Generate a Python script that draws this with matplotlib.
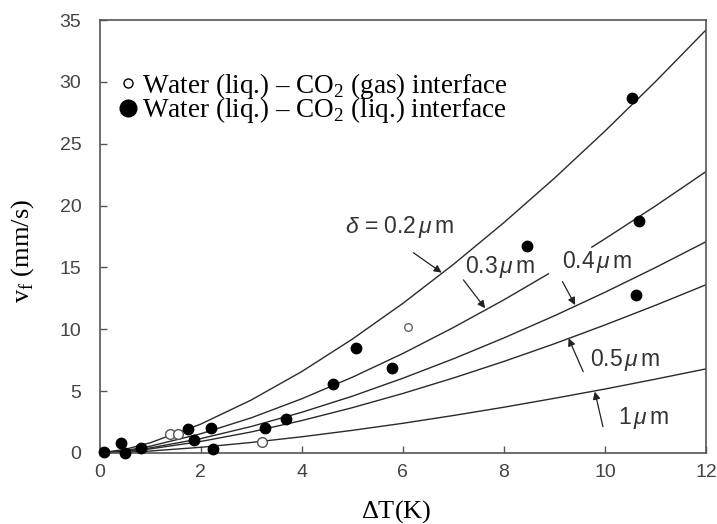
import numpy as np
import matplotlib
matplotlib.use("Agg")
import matplotlib.pyplot as plt
from matplotlib.lines import Line2D

plt.rcParams['mathtext.fontset'] = 'custom'
plt.rcParams['mathtext.rm'] = 'Liberation Serif'
plt.rcParams['mathtext.it'] = 'Liberation Sans:italic'

# curves for each film thickness delta
dT_grid = [0, 0.5, 1, 2, 3, 4, 5, 6, 7, 8, 9, 10, 11, 12]
v_02 = [0, 0.29, 0.82, 2.33, 4.28, 6.58, 9.20, 12.09, 15.24, 18.62, 22.21, 26.02, 30.02, 34.2]
v_04 = [0, 0.15, 0.41, 1.16, 2.14, 3.29, 4.59, 6.04, 7.61, 9.30, 11.09, 12.99, 14.99, 17.08]
v_05 = [0, 0.12, 0.33, 0.93, 1.70, 2.62, 3.66, 4.81, 6.06, 7.40, 8.83, 10.35, 11.94, 13.6]
v_1 = [0, 0.06, 0.16, 0.46, 0.85, 1.31, 1.83, 2.40, 3.03, 3.70, 4.42, 5.17, 5.97, 6.8]
# 0.3 um curve is broken where the "0.4 um" label sits
dT_03 = [0, 0.5, 1, 2, 3, 4, 5, 6, 7, 8, 8.88, np.nan, 9.74, 10, 11, 12]
v_03 = [0, 0.19, 0.55, 1.55, 2.84, 4.38, 6.12, 8.04, 10.14, 12.38, 14.48, np.nan, 16.64, 17.31, 19.97, 22.75]

# measured points
gas_dT = [1.39, 1.56, 3.21, 6.11]
gas_v = [1.54, 1.50, 0.86, 10.21]
liq_dT = [0.08, 0.43, 0.50, 0.83, 1.76, 1.86, 2.20, 2.24, 3.27, 3.69, 4.61, 5.07, 5.78, 8.45, 10.54, 10.68, 10.62]
liq_v = [0.05, 0.78, 0.03, 0.38, 1.94, 1.05, 2.00, 0.32, 2.00, 2.72, 5.55, 8.46, 6.85, 16.76, 28.67, 18.76, 12.77]

fig = plt.figure(figsize=(7.17, 5.24), dpi=100)
ax = fig.add_axes([0.1388, 0.1355, 0.8459, 0.8263])

lc = '#2a2a2a'
for xs, ys in [(dT_grid, v_02), (dT_03, v_03), (dT_grid, v_04), (dT_grid, v_05), (dT_grid, v_1)]:
    ax.plot(xs, ys, color=lc, lw=1.0)

ax.plot(liq_dT, liq_v, 'o', color='black', ms=7.5, clip_on=False, zorder=5)
ax.plot(gas_dT[:3], gas_v[:3], 'o', mfc='white', mec='#555555', mew=1.0, ms=7, zorder=5)
ax.plot(gas_dT[3:], gas_v[3:], 'o', mfc='white', mec='#666666', mew=1.0, ms=5.5, zorder=5)

# curve labels and arrows
lab_kw = dict(fontsize=16.5, color='#333333', family='Liberation Sans', va='center', ha='left')
arr = dict(arrowstyle='-|>', color='#222222', lw=0.9, mutation_scale=11, shrinkA=0, shrinkB=0)
ax.text(4.86, 18.3, r'$\delta$ = 0.2$\,\mu\,$m', **lab_kw)
ax.text(7.23, 15.0, r'0.3$\,\mu\,$m', **lab_kw)
ax.text(9.16, 15.47, r'0.4$\,\mu\,$m', **lab_kw)
ax.text(9.71, 7.52, r'0.5$\,\mu\,$m', **lab_kw)
ax.text(10.26, 2.8, r'1$\,\mu\,$m', **lab_kw)
ax.annotate('', xy=(6.77, 14.58), xytext=(6.21, 16.19), arrowprops=arr)
ax.annotate('', xy=(7.63, 11.70), xytext=(7.20, 13.99), arrowprops=arr)
ax.annotate('', xy=(9.41, 11.96), xytext=(9.16, 13.85), arrowprops=arr)
ax.annotate('', xy=(9.28, 9.27), xytext=(9.57, 6.57), arrowprops=arr)
ax.annotate('', xy=(9.80, 4.96), xytext=(9.96, 2.13), arrowprops=arr)

ax.set_xlim(0, 12)
ax.set_ylim(0, 35)
ax.set_xticks(range(0, 13, 2))
ax.set_yticks(range(0, 36, 5))
ax.tick_params(direction='in', length=5, width=1.0, color='#555555', labelcolor='#444444',
               labelsize=14, labelfontfamily='Liberation Sans')
ax.tick_params(axis='x', pad=8)
ax.tick_params(axis='y', pad=13)
for s in ax.spines.values():
    s.set_color('#555555')
    s.set_linewidth(1.2)

ax.set_xlabel(r'$\Delta$T(K)', fontsize=19, family='Liberation Serif')
ax.xaxis.set_label_coords(0.489, -0.105)
ax.set_ylabel(r'v$_{\rm f}$ (mm/s)', fontsize=19, family='Liberation Serif')
ax.yaxis.set_label_coords(-0.104, 0.467)

handles = [Line2D([], [], ls='none', marker='o', mfc='white', mec='black', mew=1.0, ms=6.5),
           Line2D([], [], ls='none', marker='o', color='black', ms=12)]
labels = [u'Water (liq.) \u2013 CO$_2$ (gas) interface', u'Water (liq.) \u2013 CO$_2$ (liq.) interface']
ax.legend(handles, labels, loc='upper left', bbox_to_anchor=(0.035, 0.883), frameon=False,
          prop={'family': 'Liberation Serif', 'size': 19.5}, handlelength=0.55, handletextpad=0.25,
          labelspacing=-0.2, borderpad=0, borderaxespad=0)

fig.savefig('out.png', dpi=100)
